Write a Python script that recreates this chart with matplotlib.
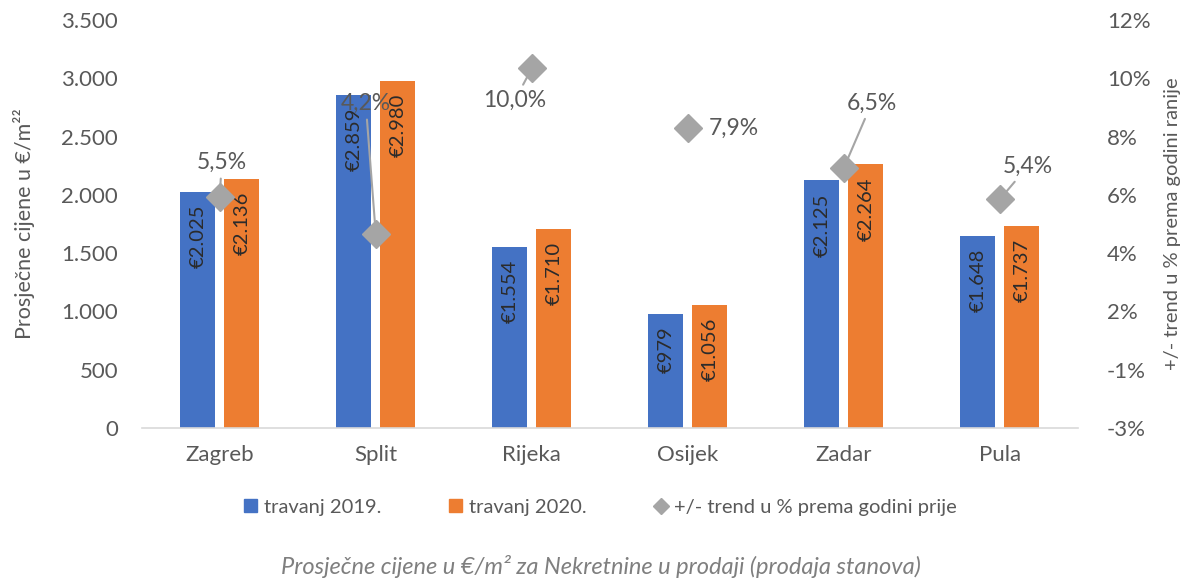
import numpy as np
import matplotlib
matplotlib.use("Agg")
import matplotlib.pyplot as plt
from matplotlib.patches import Patch
from matplotlib.lines import Line2D

plt.rcParams['font.family'] = ['Lato', 'DejaVu Sans']

cities = ["Zagreb", "Split", "Rijeka", "Osijek", "Zadar", "Pula"]
price_2019 = [2025, 2859, 1554, 979, 2125, 1648]
price_2020 = [2136, 2980, 1710, 1056, 2264, 1737]
trend = [5.5, 4.2, 10.0, 7.9, 6.5, 5.4]
trend_labels = ["5,5%", "4,2%", "10,0%", "7,9%", "6,5%", "5,4%"]
right_tick_labels = ["-3%", "-1%", "2%", "4%", "6%", "8%", "10%", "12%"]
left_ticks = [0, 500, 1000, 1500, 2000, 2500, 3000, 3500]

BLUE = "#4472C4"
ORANGE = "#ED7D31"
GREY = "#A5A5A5"
TXT = "#595959"

# label offsets (pixels) from each diamond, and whether a leader line is drawn
lab_off = [(2, 34), (-10, 130), (-17, -32), (46, 0), (28, 65), (28, 33)]
leader = [True, True, True, False, True, True]

fig = plt.figure(figsize=(12.01, 5.85), dpi=100)
ax = fig.add_axes([0.118, 0.2684, 0.7794, 0.6974])
ax2 = ax.twinx()

x = np.arange(len(cities))
w = 0.224
off = 0.141
b1 = ax.bar(x - off, price_2019, w, color=BLUE, zorder=2)
b2 = ax.bar(x + off, price_2020, w, color=ORANGE, zorder=2)

def fmt_eur(v):
    return "€" + f"{v:,}".replace(",", ".")

for bars, vals in [(b1, price_2019), (b2, price_2020)]:
    for r, v in zip(bars, vals):
        ax.annotate(fmt_eur(v), (r.get_x() + r.get_width() / 2, v),
                    xytext=(0, -13), textcoords="offset pixels",
                    rotation=90, ha="center", va="top",
                    fontsize=14.5, color="#2b2b2b", zorder=3)

ax.set_xlim(-0.5, len(cities) - 0.5)
ax.set_ylim(0, 3500)
ax.set_yticks(left_ticks)
ax.set_yticklabels([f"{t:,}".replace(",", ".") for t in left_ticks])
ax.set_xticks(x)
ax.set_xticklabels(cities)

lo, hi = -2.63, 11.7
ax2.set_ylim(lo, hi)
ax2.set_yticks(np.linspace(lo, hi, 8))
ax2.set_yticklabels(right_tick_labels)

ax2.plot(x, trend, linestyle="none", marker="D", markersize=14,
         color=GREY, zorder=5)
for i, (v, lab) in enumerate(zip(trend, trend_labels)):
    ap = dict(arrowstyle="-", color=GREY, lw=1.5, shrinkA=2, shrinkB=4) if leader[i] else None
    ax2.annotate(lab, (x[i], v), xytext=lab_off[i], textcoords="offset pixels",
                 ha="center", va="center", fontsize=16.5, color=TXT,
                 arrowprops=ap, zorder=4)

for a in (ax, ax2):
    for s in a.spines.values():
        s.set_visible(False)
    a.tick_params(length=0, labelsize=16, labelcolor=TXT)
ax.spines["bottom"].set_visible(True)
ax.spines["bottom"].set_color("#D9D9D9")
ax.spines["bottom"].set_linewidth(1.2)
ax.tick_params(axis="y", pad=17)
ax.tick_params(axis="x", pad=12)
ax2.tick_params(axis="y", pad=21)

ax.set_ylabel("Prosječne cijene u €/m²²", fontsize=15.5, color=TXT)
ax.yaxis.set_label_coords(-0.114, 0.5)
ax2.set_ylabel("+/- trend u % prema godini ranije", fontsize=14.5, color=TXT)
ax2.yaxis.set_label_coords(1.092, 0.5)

handles = [Patch(color=BLUE), Patch(color=ORANGE),
           Line2D([], [], linestyle="none", marker="D", color=GREY, markersize=8)]
fig.legend(handles, ["travanj 2019.", "travanj 2020.", "+/- trend u % prema godini prije"],
           loc="center", bbox_to_anchor=(0.5, 0.133), ncol=3, frameon=False,
           fontsize=14.5, labelcolor=TXT, handlelength=0.6, handleheight=0.6,
           handletextpad=0.35, columnspacing=3.4)

fig.text(0.5, 0.031, "Prosječne cijene u €/m² za Nekretnine u prodaji (prodaja stanova)",
         ha="center", va="center", fontsize=17, style="italic", color="#7F7F7F")

fig.savefig("out.png", dpi=100)
